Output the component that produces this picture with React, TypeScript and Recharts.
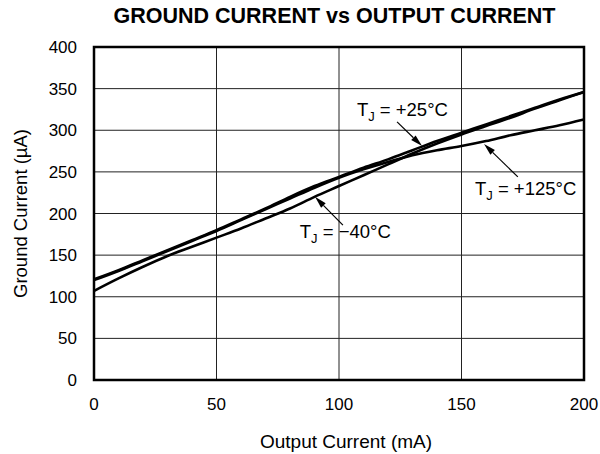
import React from 'react';
import {
    LineChart, Line, XAxis, YAxis, CartesianGrid, ReferenceArea, ReferenceLine, ReferenceDot,
} from 'recharts';

// output current (mA)
const currents = [0, 10, 20, 30, 40, 50, 60, 70, 80, 90, 100, 110, 120, 130, 140, 150, 160, 170, 180, 190, 200];
// ground current (µA) per junction temperature
const tj25 = [121, 132, 144, 156, 168, 180, 193, 206, 220, 233, 244, 255, 265, 276, 287, 297, 307, 317, 327, 337, 346];
const tj125 = [120, 131, 143, 155, 167, 179, 192, 205, 218, 231, 243, 253, 262, 270, 276, 281, 287, 294, 300, 306, 313];
const tjm40 = [107, 122, 136, 149, 160, 171, 182, 194, 206, 220, 233, 246, 259, 272, 284, 295, 305, 315, 326, 336, 346];

const xTicks = [0, 50, 100, 150, 200];
const yTicks = [0, 50, 100, 150, 200, 250, 300, 350, 400];

const data = currents.map((c, i) => ({
    current: c,
    tj25: tj25[i],
    tj125: tj125[i],
    tjm40: tjm40[i],
}));

// callouts, in data units: label start, arrow tail, arrow tip
const callouts = [
    { text: ' = +25°C', label: [107.3, 317], tail: [123.7, 310], tip: [133.9, 281] },
    { text: ' = +125°C', label: [155.5, 222], tail: [173, 244], tip: [159.2, 283.5] },
    { text: ' = −40°C', label: [84, 170.6], tail: [101.6, 186], tip: [90.2, 220] },
];

const FONT = '"Liberation Sans", Arial, Helvetica, sans-serif';

const Arrow = (props: any) => {
    const { x1, y1, x2, y2 } = props;
    const dx = x2 - x1;
    const dy = y2 - y1;
    const len = Math.sqrt(dx * dx + dy * dy) || 1;
    const ux = dx / len;
    const uy = dy / len;
    const head = 12;
    const half = 3.2;
    const bx = x2 - ux * head;
    const by = y2 - uy * head;
    const pts = `${x2},${y2} ${bx - uy * half},${by + ux * half} ${bx + uy * half},${by - ux * half}`;
    return (
        <g>
            <line x1={x1} y1={y1} x2={bx} y2={by} stroke="#000" strokeWidth={1.2} />
            <polygon points={pts} fill="#000" />
        </g>
    );
};

const calloutText = (text: string) => (props: any) => {
    const { cx, cy } = props;
    return (
        <text x={cx} y={cy} fontFamily={FONT} fontSize={18.5} fill="#000">
            <tspan>T</tspan>
            <tspan dy={5} fontSize={13}>J</tspan>
            <tspan dy={-5}>{text}</tspan>
        </text>
    );
};

const YTitle = (props: any) => {
    const { viewBox } = props;
    const x = 20;
    const y = viewBox.y + viewBox.height / 2;
    return (
        <text x={x} y={y} transform={`rotate(-90, ${x}, ${y})`} textAnchor="middle"
            dominantBaseline="central" fontFamily={FONT} fontSize={18.5} fill="#000">
            Ground Current (µA)
        </text>
    );
};

const XTitle = (props: any) => {
    const { viewBox } = props;
    return (
        <text x={viewBox.x + viewBox.width / 2 + 7} y={448} textAnchor="middle"
            fontFamily={FONT} fontSize={19} fill="#000">
            Output Current (mA)
        </text>
    );
};

export default function App() {
    return (
        <div style={{
            position: 'absolute', left: 0, top: 0, width: 600, height: 454, background: '#fff', fontFamily: FONT,
        }}>
            <div style={{
                position: 'absolute', left: 0, top: 4, width: 669, textAlign: 'center',
                fontWeight: 'bold', fontSize: 21.5, lineHeight: '24px', color: '#000',
            }}>
                GROUND CURRENT vs OUTPUT CURRENT
            </div>
            <LineChart
                width={600}
                height={454}
                data={data}
                margin={{ top: 47, right: 16, bottom: 0, left: 0 }}
            >
                <CartesianGrid stroke="#222" strokeWidth={1} />
                <XAxis
                    dataKey="current"
                    type="number"
                    domain={[0, 200]}
                    ticks={xTicks}
                    height={74}
                    axisLine={false}
                    tickLine={false}
                    tickSize={0}
                    tickMargin={18}
                    tick={{ fill: '#000', fontSize: 17, fontFamily: FONT }}
                    label={{ content: XTitle }}
                />
                <YAxis
                    type="number"
                    domain={[0, 400]}
                    ticks={yTicks}
                    width={94}
                    axisLine={false}
                    tickLine={false}
                    tickSize={0}
                    tickMargin={17}
                    tick={{ fill: '#000', fontSize: 17, fontFamily: FONT }}
                    label={{ content: YTitle }}
                />
                <ReferenceArea x1={0} x2={200} y1={0} y2={400} fill="none" stroke="#000" strokeWidth={2.5} />
                <Line dataKey="tj125" type="monotone" stroke="#000" strokeWidth={2.6} dot={false} isAnimationActive={false} />
                <Line dataKey="tjm40" type="monotone" stroke="#000" strokeWidth={2.6} dot={false} isAnimationActive={false} />
                <Line dataKey="tj25" type="monotone" stroke="#000" strokeWidth={2.6} dot={false} isAnimationActive={false} />
                {callouts.map((c) => (
                    <ReferenceLine
                        key={`a${c.text}`}
                        segment={[{ x: c.tail[0], y: c.tail[1] }, { x: c.tip[0], y: c.tip[1] }]}
                        shape={Arrow}
                    />
                ))}
                {callouts.map((c) => (
                    <ReferenceDot
                        key={`t${c.text}`}
                        x={c.label[0]}
                        y={c.label[1]}
                        r={0}
                        shape={calloutText(c.text)}
                    />
                ))}
            </LineChart>
        </div>
    );
}
